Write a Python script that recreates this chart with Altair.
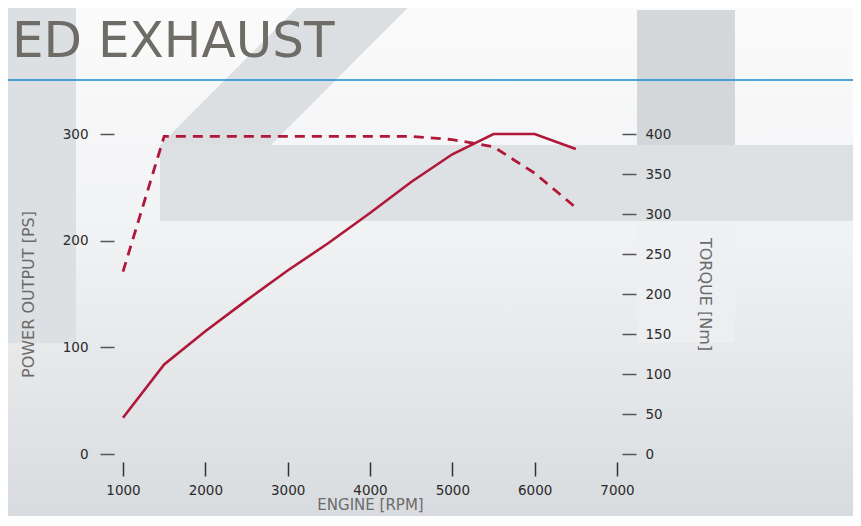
import altair as alt
import pandas as pd

# ---- data ----
rpm = [1000, 1500, 2000, 2500, 3000, 3500, 4000, 4500, 5000, 5500, 6000, 6500]
power_ps = [34, 84, 115, 144, 172, 198, 226, 255, 281, 300, 300, 286]
torque_nm = [228, 397, 397, 397, 397, 397, 397, 397, 393, 384, 351, 308]

x_ticks = [1000, 2000, 3000, 4000, 5000, 6000, 7000]
power_ticks = [0, 100, 200, 300]
torque_ticks = [0, 50, 100, 150, 200, 250, 300, 350, 400]

heading = "ED EXHAUST"
x_title = "ENGINE [RPM]"
power_title = "POWER OUTPUT [PS]"
torque_title = "TORQUE [Nm]"

df = pd.DataFrame({"rpm": rpm, "power": power_ps, "torque": torque_nm})
one = pd.DataFrame({"k": [0]})

W, H = 494, 320
RED = "#b0183a"
LABEL_FONT = "DejaVu Sans"
TITLE_FONT = "DejaVu Sans"

# ---- decorative background ----
bg = alt.Chart(one).mark_rect(
    fill=alt.LinearGradient(
        gradient="linear", x1=0, x2=0, y1=0, y2=1,
        stops=[alt.GradientStop(offset=0, color="#fbfbfb"),
               alt.GradientStop(offset=0.42, color="#f2f3f5"),
               alt.GradientStop(offset=1, color="#d7dadd")]
    )
).encode(x=alt.value(-130), x2=alt.value(760), y=alt.value(-140), y2=alt.value(400))

left_bar = alt.Chart(one).mark_rect(color="#dde0e3").encode(
    x=alt.value(-130), x2=alt.value(-47), y=alt.value(-140), y2=alt.value(209))

diag = alt.Chart(one).mark_rule(color="#dcdfe2", strokeWidth=78.5, strokeCap="butt").encode(
    x=alt.value(64.75), y=alt.value(38.75), x2=alt.value(277), y2=alt.value(-174))

band = alt.Chart(one).mark_rect(color="#dee1e4").encode(
    x=alt.value(37), x2=alt.value(760), y=alt.value(11), y2=alt.value(87))

right_bar = alt.Chart(one).mark_rect(color="#d3d7da").encode(
    x=alt.value(514), x2=alt.value(612), y=alt.value(-124), y2=alt.value(11))

right_bar_low = alt.Chart(one).mark_rect(color="#eef0f2", opacity=0.7).encode(
    x=alt.value(514), x2=alt.value(612), y=alt.value(87), y2=alt.value(209))

blue = alt.Chart(one).mark_rule(color="#168ccd", strokeWidth=1.5).encode(
    x=alt.value(-130), x2=alt.value(760), y=alt.value(-54))

head = alt.Chart(one).mark_text(
    align="left", baseline="alphabetic", font="DejaVu Sans", fontSize=50, color="#6f6c67"
).encode(x=alt.value(-111), y=alt.value(-77), text=alt.value(heading))

# ---- axes ----
x_axis = alt.Axis(
    orient="bottom", values=x_ticks, format="d", offset=8, tickSize=14, tickWidth=1.5,
    tickColor="#333333", domain=False, grid=False, labelFont=LABEL_FONT, labelFontSize=13.5,
    labelColor="#2a2a2a", labelPadding=7, labelFlush=False, labelOverlap=False,
    title=x_title, titleFont=TITLE_FONT, titleFontSize=15, titleFontWeight="normal",
    titleColor="#6b6b6b", titlePadding=1, zindex=1)

left_axis = alt.Axis(
    orient="left", values=power_ticks, format="d", offset=9, tickSize=14, tickWidth=1.5,
    tickColor="#555555", domain=False, grid=False, labelFont=LABEL_FONT, labelFontSize=13.5,
    labelColor="#2a2a2a", labelPadding=12, labelOverlap=False, labelFlush=False,
    title=power_title, titleFont=TITLE_FONT, titleFontSize=16, titleFontWeight="normal",
    titleColor="#6b6b6b", titlePadding=26, titleAngle=270, zindex=1)

right_axis = alt.Axis(
    orient="right", values=torque_ticks, format="d", offset=5, tickSize=14, tickWidth=1.5,
    tickColor="#555555", domain=False, grid=False, labelFont=LABEL_FONT, labelFontSize=13.5,
    labelColor="#2a2a2a", labelPadding=9, labelOverlap=False, labelFlush=False,
    title=torque_title, titleFont=TITLE_FONT, titleFontSize=16, titleFontWeight="normal",
    titleColor="#6b6b6b", titlePadding=26, titleAngle=90, zindex=1)

x_scale = alt.Scale(domain=[1000, 7000], nice=False, zero=False)

power = alt.Chart(df).mark_line(color=RED, strokeWidth=2.6).encode(
    x=alt.X("rpm:Q", scale=x_scale, axis=x_axis),
    y=alt.Y("power:Q", scale=alt.Scale(domain=[0, 300], nice=False), axis=left_axis),
)

torque = alt.Chart(df).mark_line(color=RED, strokeWidth=2.8, strokeDash=[10, 7]).encode(
    x=alt.X("rpm:Q", scale=x_scale, axis=x_axis),
    y=alt.Y("torque:Q", scale=alt.Scale(domain=[0, 400], nice=False), axis=right_axis),
)

chart = alt.layer(
    bg, left_bar, diag, band, right_bar, right_bar_low, blue, head, power, torque
).resolve_scale(y="independent").properties(
    width=W, height=H,
    padding={"left": 115, "top": 126, "right": 236, "bottom": 62},
    autosize=alt.AutoSizeParams(type="none"),
).configure_view(stroke=None).configure(background="#eceef0")

chart.save("out.html", embed_options={"renderer": "svg", "actions": False})
